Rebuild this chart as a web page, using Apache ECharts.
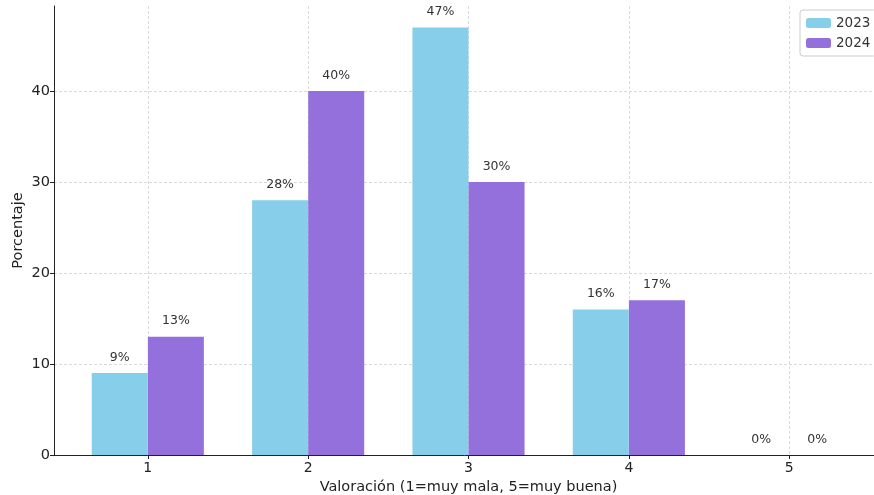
<!DOCTYPE html>
<html><head><meta charset="utf-8">
<script src="https://cdn.jsdelivr.net/npm/echarts@6/dist/echarts.min.js"></script>
<style>html,body{margin:0;padding:0;background:#fff}#c{width:874px;height:495px}</style>
</head><body><div id="c"></div>
<script>
const categories = [1, 2, 3, 4, 5];
const values2023 = [9, 28, 47, 16, 0];
const values2024 = [13, 40, 30, 17, 0];
const seriesNames = ['2023', '2024'];
const yTicks = [0, 10, 20, 30, 40];

const half = 0.175;
const d2023 = categories.map((c, i) => [c - half, values2023[i]]);
const d2024 = categories.map((c, i) => [c + half, values2024[i]]);

const font = 'DejaVu Sans';
const chart = echarts.init(document.getElementById('c'));
const lbl = {
  show: true, position: 'top', distance: 9,
  formatter: p => p.value[1] + '%',
  fontFamily: font, fontSize: 12.5, color: '#333'
};
chart.setOption({
  animation: false,
  textStyle: { fontFamily: font },
  grid: { left: 54, right: -9, top: 6, bottom: 40, containLabel: false, outerBoundsMode: 'none' },
  legend: {
    data: seriesNames, orient: 'vertical', left: 800, top: 10,
    itemWidth: 25, itemHeight: 10, itemGap: 6, padding: [6, 6, 6, 6],
    borderColor: '#cccccc', borderWidth: 1, borderRadius: 3,
    backgroundColor: '#fff',
    textStyle: { fontFamily: font, fontSize: 13.5, color: '#333' }
  },
  xAxis: {
    type: 'value', min: 0.415, max: 5.585,
    name: 'Valoración (1=muy mala, 5=muy buena)', nameLocation: 'middle', nameGap: 25,
    nameMoveOverlap: false,
    nameTextStyle: { fontFamily: font, fontSize: 14.5, color: '#222' },
    axisLine: { show: true, lineStyle: { color: '#222', width: 1 } },
    axisTick: { show: true, length: 4, lineStyle: { color: '#222' }, customValues: categories },
    axisLabel: { fontFamily: font, fontSize: 14, color: '#222', margin: 6, customValues: categories, formatter: v => String(v) },
    splitLine: { show: true, lineStyle: { color: '#dadada', type: [3, 2], width: 1 } }
  },
  yAxis: {
    type: 'value', min: 0, max: 49.35, interval: 10,
    name: 'Porcentaje', nameLocation: 'middle', nameGap: 28, nameRotate: 90,
    nameMoveOverlap: false,
    nameTextStyle: { fontFamily: font, fontSize: 14.5, color: '#222' },
    axisLine: { show: true, lineStyle: { color: '#222', width: 1 } },
    axisTick: { show: true, length: 4, lineStyle: { color: '#222' }, customValues: yTicks },
    axisLabel: { fontFamily: font, fontSize: 14.5, color: '#222', margin: 4, customValues: yTicks },
    splitLine: { show: true, lineStyle: { color: '#dadada', type: [3, 2], width: 1 } }
  },
  series: [
    { name: seriesNames[0], type: 'bar', data: d2023, barWidth: 56, barGap: '-100%',
      itemStyle: { color: '#87CEEB' }, label: lbl, z: 3 },
    { name: seriesNames[1], type: 'bar', data: d2024, barWidth: 56, barGap: '-100%',
      itemStyle: { color: '#9370DB' }, label: lbl, z: 3 }
  ]
});
</script></body></html>
